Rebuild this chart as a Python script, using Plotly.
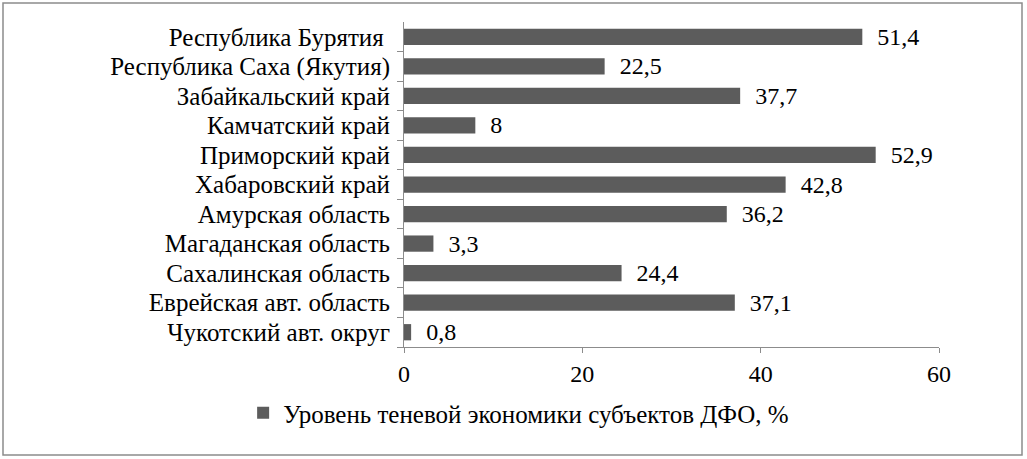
import plotly.graph_objects as go

categories = [
    "Республика Бурятия\u00a0",
    "Республика Саха (Якутия)",
    "Забайкальский край",
    "Камчатский край",
    "Приморский край",
    "Хабаровский край",
    "Амурская область",
    "Магаданская область",
    "Сахалинская область",
    "Еврейская авт. область",
    "Чукотский авт. округ",
]
values = [51.4, 22.5, 37.7, 8, 52.9, 42.8, 36.2, 3.3, 24.4, 37.1, 0.8]
labels = ["51,4", "22,5", "37,7", "8", "52,9", "42,8", "36,2", "3,3", "24,4", "37,1", "0,8"]
series_name = "Уровень теневой экономики субъектов ДФО, %"
x_ticks = [0, 20, 40, 60]

W, H = 1027, 459
L, R, T, B = 404, 88, 22, 112
FONT = "'Liberation Serif', 'Times New Roman', serif"
FS = 25

fig = go.Figure()
fig.add_trace(go.Bar(
    y=categories, x=values, orientation="h",
    name=series_name,
    marker=dict(color="#5c5c5c", line=dict(width=0)),
    text=["\u00a0\u00a0" + s for s in labels],
    textposition="outside",
    constraintext="none",
    textfont=dict(family=FONT, size=24, color="#000000"),
    cliponaxis=False,
    showlegend=True,
))

pw = W - L - R
ph = H - T - B
fig.add_shape(type="rect", xref="paper", yref="paper",
              x0=(3 - L) / pw, x1=(1022 - L) / pw,
              y0=-(455 - (H - B)) / ph,
              y1=1 + (T - 3) / ph,
              line=dict(color="#8c8c8c", width=1.5), fillcolor="rgba(0,0,0,0)", layer="below")

fig.update_layout(
    width=W, height=H,
    margin=dict(l=L, r=R, t=T, b=B, pad=0),
    paper_bgcolor="white", plot_bgcolor="white",
    font=dict(family=FONT, size=FS, color="#000000"),
    bargap=0.45,
    xaxis=dict(range=[0, 60], tickvals=x_ticks, ticktext=[str(v) for v in x_ticks],
               automargin=False,
               showgrid=False, zeroline=False, showline=True, linecolor="#8c8c8c", linewidth=1,
               ticks="outside", ticklen=5, tickcolor="#8c8c8c",
               tickfont=dict(family=FONT, size=24)),
    yaxis=dict(categoryorder="array", categoryarray=categories[::-1],
               tickmode="array", tickvals=categories, ticktext=categories,
               automargin=False,
               showgrid=False, zeroline=False, showline=True, linecolor="#8c8c8c", linewidth=1,
               ticks="outside", ticklen=6, tickcolor="#8c8c8c", tickson="boundaries",
               ticklabelstandoff=8,
               tickfont=dict(family=FONT, size=FS)),
    legend=dict(orientation="h", xref="container", x=0.505, xanchor="center",
                yref="container", y=(H - 413) / H, yanchor="middle",
                font=dict(family=FONT, size=FS), itemwidth=30),
)

fig.write_html("out.html", config={"displayModeBar": False},
               post_script="document.body.style.margin='0';document.body.style.padding='0';")
